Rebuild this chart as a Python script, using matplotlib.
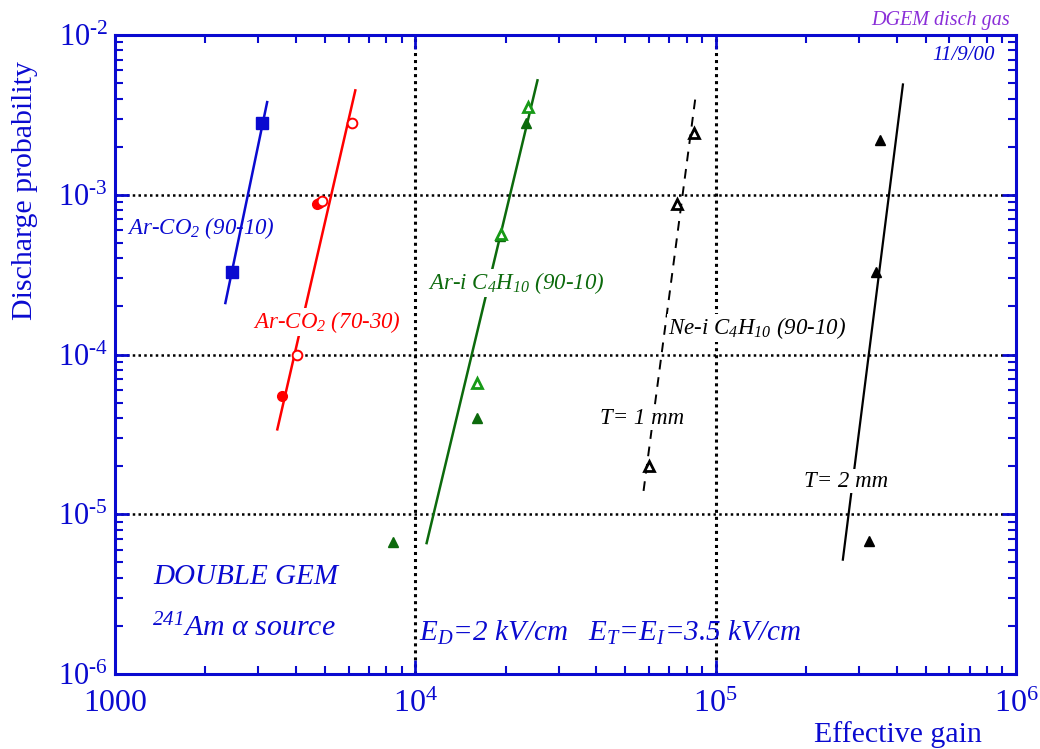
import matplotlib
matplotlib.use("Agg")
import matplotlib.pyplot as plt
from matplotlib.ticker import FixedLocator, FixedFormatter, LogLocator, NullFormatter

plt.rcParams["font.family"] = ["Liberation Serif", "DejaVu Serif"]
plt.rcParams["mathtext.fontset"] = "custom"
plt.rcParams["mathtext.rm"] = "Liberation Serif"
plt.rcParams["mathtext.it"] = "Liberation Serif:italic"
plt.rcParams["mathtext.sf"] = "Liberation Serif:italic"

BLUE = "#0a0ad0"
RED = "#ff0000"
GREEN = "#0c6a0c"
GREEN_OPEN = "#179a17"

# Ar-CO2 (90-10)
arco2_9010_gain = [2450, 3090]
arco2_9010_prob = [3.3e-4, 2.8e-3]
arco2_9010_fit_gain = [2330, 3210]
arco2_9010_fit_prob = [2.1e-4, 3.8e-3]

# Ar-CO2 (70-30)
arco2_7030_full_gain = [3600, 4700, 4780]
arco2_7030_full_prob = [5.5e-5, 8.7e-4, 8.9e-4]
arco2_7030_open_gain = [4040, 4900, 6160]
arco2_7030_open_prob = [1.0e-4, 9.1e-4, 2.8e-3]
arco2_7030_fit_gain = [3470, 6310]
arco2_7030_fit_prob = [3.4e-5, 4.5e-3]

# Ar-iC4H10 (90-10)
aric4_full_gain = [8440, 16000, 19200, 23400]
aric4_full_prob = [6.7e-6, 4.0e-5, 5.5e-4, 2.8e-3]
aric4_open_gain = [16000, 19300, 23700]
aric4_open_prob = [6.6e-5, 5.7e-4, 3.55e-3]
aric4_fit_gain = [10900, 25500]
aric4_fit_prob = [6.6e-6, 5.2e-3]

# Ne-iC4H10 (90-10), T = 1 mm
neic4_t1_gain = [59800, 74200, 84500]
neic4_t1_prob = [2.0e-5, 8.7e-4, 2.44e-3]
neic4_t1_fit_gain = [57500, 85500]
neic4_t1_fit_prob = [1.4e-5, 4.0e-3]

# Ne-iC4H10 (90-10), T = 2 mm
neic4_t2_gain = [352000, 342000, 324000]
neic4_t2_prob = [2.2e-3, 3.3e-4, 6.8e-6]
neic4_t2_fit_gain = [265000, 420000]
neic4_t2_fit_prob = [5.2e-6, 4.9e-3]

x_ticks = [1e3, 1e4, 1e5, 1e6]
x_tick_labels = ["1000", "10$^4$", "10$^5$", "10$^6$"]
y_ticks = [1e-6, 1e-5, 1e-4, 1e-3, 1e-2]
y_tick_labels = ["10$^{\\text{-}6}$", "10$^{\\text{-}5}$", "10$^{\\text{-}4}$",
                 "10$^{\\text{-}3}$", "10$^{\\text{-}2}$"]

fig = plt.figure(figsize=(10.4, 7.49), dpi=100)
ax = fig.add_axes([0.1106, 0.1001, 0.8664, 0.8532])
ax.set_xscale("log")
ax.set_yscale("log")
ax.set_xlim(1e3, 1e6)
ax.set_ylim(1e-6, 1e-2)

# grid
for xv in [1e4, 1e5]:
    ax.axvline(xv, color="black", lw=2.2, ls=(0, (1, 1.3)), zorder=1)
for yv in [1e-5, 1e-4, 1e-3]:
    ax.axhline(yv, color="black", lw=1.8, ls=(0, (1, 1.3)), zorder=1)

# fits
ax.plot(arco2_9010_fit_gain, arco2_9010_fit_prob, color=BLUE, lw=1.8, zorder=3)
ax.plot(arco2_7030_fit_gain, arco2_7030_fit_prob, color=RED, lw=1.8, zorder=3)
ax.plot(aric4_fit_gain, aric4_fit_prob, color=GREEN, lw=1.8, zorder=3)
ax.plot(neic4_t1_fit_gain, neic4_t1_fit_prob, color="black", lw=1.4,
        ls=(0, (5, 4)), zorder=3)
ax.plot(neic4_t2_fit_gain, neic4_t2_fit_prob, color="black", lw=1.6, zorder=3)

# points
ax.plot(arco2_9010_gain, arco2_9010_prob, "s", color=BLUE, ms=8.5, zorder=4)
ax.plot(arco2_7030_full_gain, arco2_7030_full_prob, "o", color=RED, ms=7, zorder=4)
ax.plot(arco2_7030_open_gain, arco2_7030_open_prob, "o", mfc="white", mec=RED,
        mew=1.4, ms=7, zorder=4)
ax.plot(aric4_full_gain, aric4_full_prob, "^", color=GREEN, ms=7.5, zorder=4)
ax.plot(aric4_open_gain, aric4_open_prob, "^", mfc="white", mec=GREEN_OPEN,
        mew=2, ms=6.5, zorder=4)
ax.plot(neic4_t1_gain, neic4_t1_prob, "^", mfc="white", mec="black",
        mew=2, ms=6.5, zorder=4)
ax.plot(neic4_t2_gain, neic4_t2_prob, "^", color="black", ms=7.5, zorder=4)

# axes styling
for sp in ax.spines.values():
    sp.set_color(BLUE)
    sp.set_linewidth(2.2)
ax.xaxis.set_major_locator(FixedLocator(x_ticks))
ax.xaxis.set_major_formatter(FixedFormatter(x_tick_labels))
ax.yaxis.set_major_locator(FixedLocator(y_ticks))
ax.yaxis.set_major_formatter(FixedFormatter(y_tick_labels))
ax.xaxis.set_minor_locator(LogLocator(base=10, subs=range(2, 10)))
ax.yaxis.set_minor_locator(LogLocator(base=10, subs=range(2, 10)))
ax.xaxis.set_minor_formatter(NullFormatter())
ax.yaxis.set_minor_formatter(NullFormatter())
ax.tick_params(which="both", direction="in", top=True, right=True,
               color=BLUE, labelcolor=BLUE)
ax.tick_params(which="major", length=10, width=2)
ax.tick_params(which="minor", length=6, width=1.5)
ax.tick_params(axis="x", which="major", pad=11, labelsize=23)
ax.tick_params(axis="y", which="major", pad=5, labelsize=22)

ax.set_ylabel("Discharge probability", color=BLUE, fontsize=21.5)
ax.yaxis.set_label_coords(-0.085, 0.757)
ax.set_xlabel("Effective gain", color=BLUE, fontsize=21.5, loc="right")
ax.xaxis.set_label_coords(0.962, -0.074)

white = dict(facecolor="white", edgecolor="none", pad=1)
tkw = dict(transform=ax.transAxes, style="italic", zorder=6)


def ax_xy(px, py):
    return (px - 115) / 901.0, (674 - py) / 639.0


ax.text(*ax_xy(127, 228), "Ar-CO$_\\mathsf{2}$ (90-10)", color=BLUE,
        fontsize=16.5, va="center", **tkw)
ax.text(*ax_xy(253, 322), "Ar-CO$_\\mathsf{2}$ (70-30)", color=RED,
        fontsize=16.5, va="center", bbox=white, **tkw)
ax.text(*ax_xy(428, 283), "Ar-i C$_\\mathsf{4}$H$_\\mathsf{10}$ (90-10)",
        color=GREEN, fontsize=16.5, va="center", bbox=white, **tkw)
ax.text(*ax_xy(668, 328), "Ne-i C$_\\mathsf{4}$H$_\\mathsf{10}$ (90-10)",
        color="black", fontsize=16.5, va="center", bbox=white, **tkw)
ax.text(*ax_xy(600, 418), "T= 1 mm", color="black", fontsize=16.5,
        va="center", bbox=white, **tkw)
ax.text(*ax_xy(804, 481), "T= 2 mm", color="black", fontsize=16.5,
        va="center", bbox=white, **tkw)
ax.text(*ax_xy(153, 577), "DOUBLE GEM", color=BLUE, fontsize=21,
        va="center", **tkw)
ax.text(*ax_xy(152, 628), "$^\\mathsf{241}$Am \u03b1 source", color=BLUE,
        fontsize=21.5, va="center", **tkw)
ax.text(*ax_xy(419, 633),
        "E$_\\mathsf{D}$=2 kV/cm   E$_\\mathsf{T}$=E$_\\mathsf{I}$=3.5 kV/cm",
        color=BLUE, fontsize=21, va="center", **tkw)
ax.text(*ax_xy(995, 56), "11/9/00", color=BLUE, fontsize=15, ha="right",
        va="center", **tkw)
fig.text(1010 / 1040, 1 - 20 / 749, "DGEM disch gas", color="#8a2ed8",
         fontsize=14.5, style="italic", ha="right", va="center")

fig.savefig("out.png", dpi=100)
